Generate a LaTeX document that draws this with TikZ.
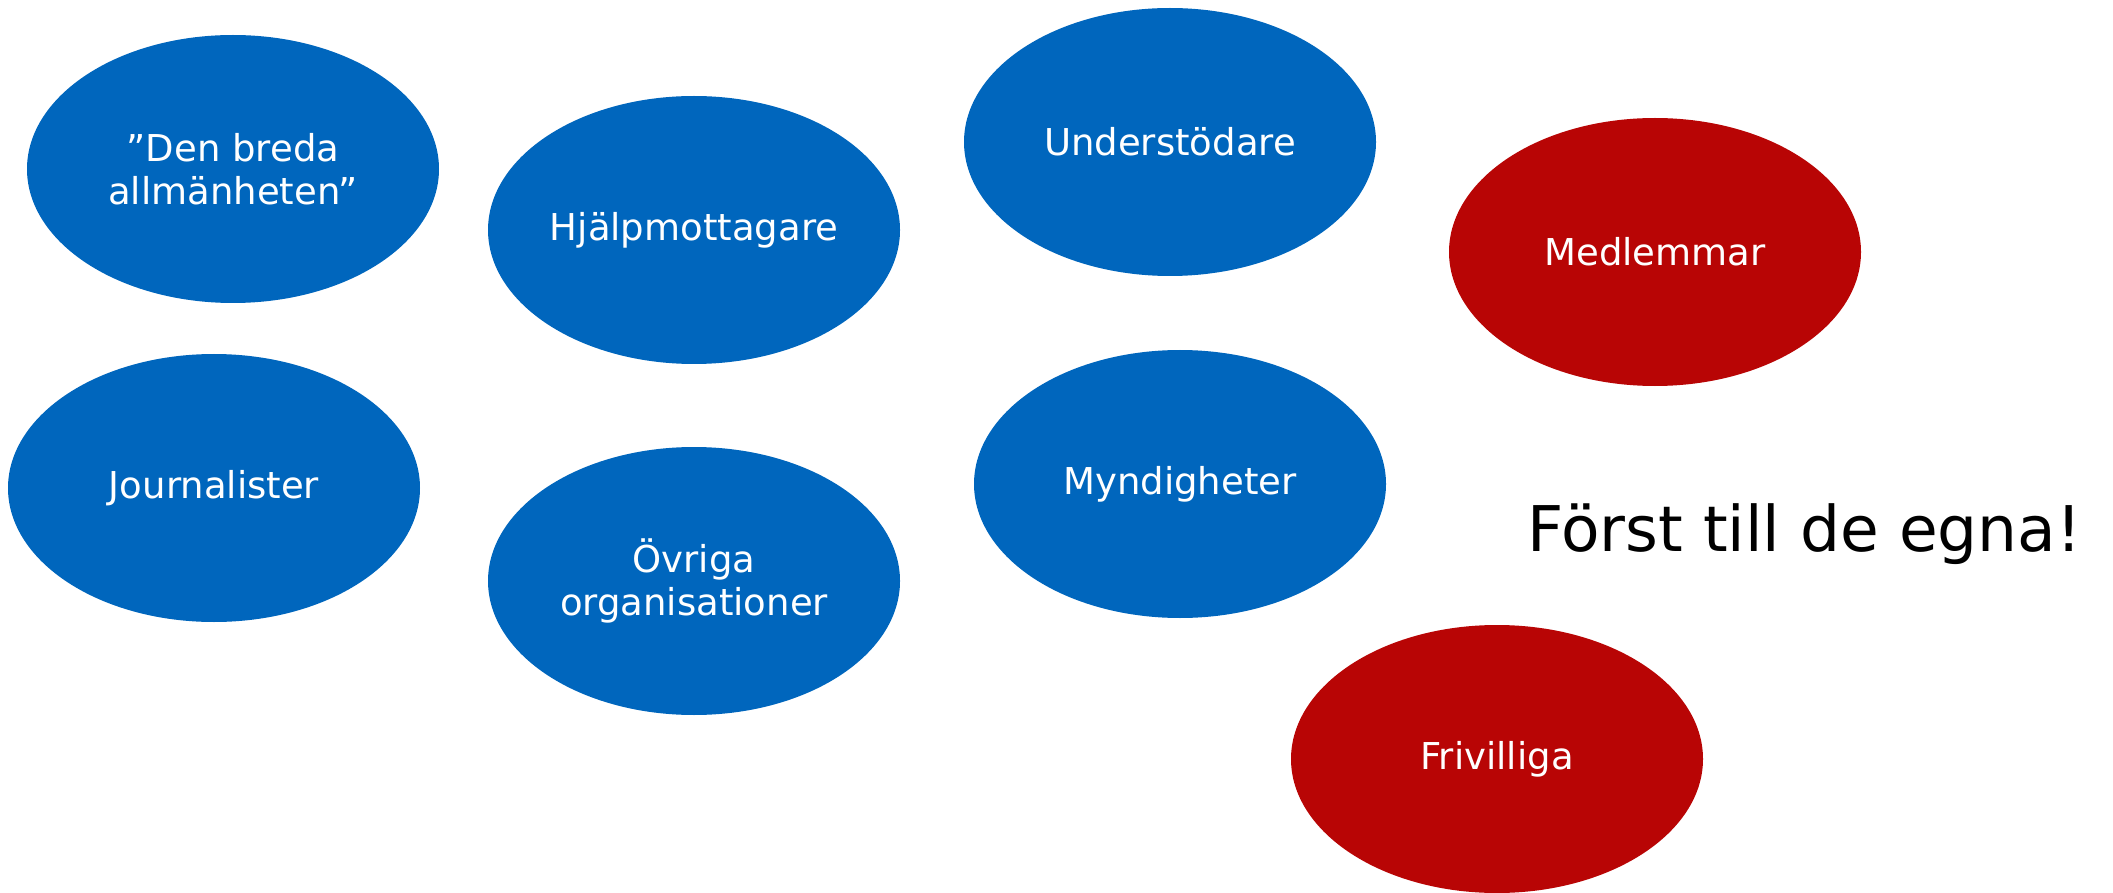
\documentclass[tikz,border=0pt]{standalone}
\usepackage{fontspec}
\setmainfont{DejaVu Sans}
\usetikzlibrary{shapes.geometric}
\definecolor{ovalblue}{HTML}{0066BD}
\definecolor{ovalred}{HTML}{B80505}
\tikzset{
  oval/.style={ellipse, minimum width=412pt, minimum height=268pt, inner sep=0pt,
    text=white, align=center, font=\fontsize{37}{43}\selectfont},
  blueoval/.style={oval, fill=ovalblue},
  redoval/.style={oval, fill=ovalred},
  slogan/.style={font=\fontsize{63}{70}\selectfont, text=black, anchor=base west, inner sep=0pt}
}
\begin{document}
\begin{tikzpicture}[x=1pt,y=-1pt]
\useasboundingbox (0,0) rectangle (2113,893);
\node[blueoval] (allm) at (233,169) {”Den breda\\allmänheten”};
\node[blueoval] (hjalp) at (694,230) {Hjälpmottagare};
\node[blueoval] (under) at (1170,142) {Understödare};
\node[redoval] (medl) at (1655,252) {Medlemmar};
\node[blueoval] (journ) at (214,488) {Journalister};
\node[blueoval] (ovr) at (694,581) {Övriga\\organisationer};
\node[blueoval] (mynd) at (1180,484) {Myndigheter};
\node[redoval] (friv) at (1497,759) {Frivilliga};
\node[slogan] (forst) at (1527,551) {Först till de egna!};
\end{tikzpicture}
\end{document}
